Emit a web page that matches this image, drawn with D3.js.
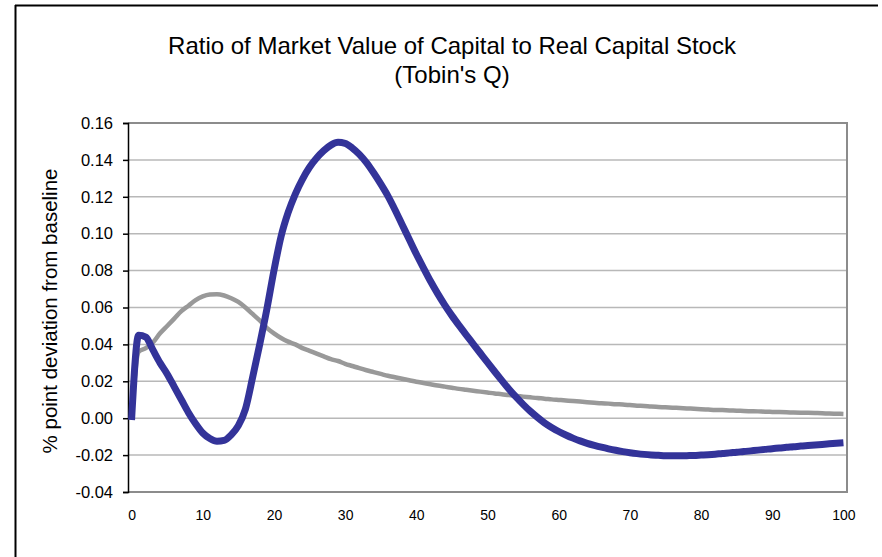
<!DOCTYPE html>
<html>
<head>
<meta charset="utf-8">
<script src="https://cdn.jsdelivr.net/npm/d3@7"></script>
<style>
  body { margin: 0; background: #fff; }
  svg text { font-family: "Liberation Sans", Arial, sans-serif; fill: #000; }
</style>
</head>
<body>
<div class="chartdiv"></div>
<script>
//chart data: periods 0..100
var periods = d3.range(0, 101);
var xTickValues = [0, 10, 20, 30, 40, 50, 60, 70, 80, 90, 100];
var yTickValues = [-0.04, -0.02, 0.00, 0.02, 0.04, 0.06, 0.08, 0.10, 0.12, 0.14, 0.16];

//blue series
var seriesBlue = [
  -0.001, 0.045, 0.044, 0.037, 0.030, 0.024, 0.017, 0.010, 0.003, -0.003,
  -0.008, -0.011, -0.0125, -0.012, -0.009, -0.004, 0.005, 0.022, 0.040, 0.059,
  0.080, 0.0985, 0.1115, 0.1215, 0.1295, 0.136, 0.141, 0.145, 0.148, 0.1495,
  0.149, 0.1465, 0.143, 0.1385, 0.133, 0.127, 0.1205, 0.113, 0.105, 0.097,
  0.089, 0.0815, 0.0742, 0.0675, 0.0613, 0.0556, 0.0503, 0.0452, 0.0402, 0.0352,
  0.0302, 0.0253, 0.0205, 0.0158, 0.0115, 0.0075, 0.0038, 0.0005, -0.0025, -0.005,
  -0.0072, -0.0091, -0.0108, -0.0123, -0.0136, -0.0147, -0.0157, -0.0166, -0.0174, -0.0181,
  -0.0187, -0.0192, -0.0196, -0.0199, -0.0201, -0.0203, -0.0204, -0.0204, -0.0203, -0.0202,
  -0.0200, -0.0198, -0.0195, -0.0191, -0.0188, -0.0184, -0.0181, -0.0177, -0.0173, -0.0169,
  -0.0165, -0.0162, -0.0158, -0.0155, -0.0151, -0.0148, -0.0145, -0.0142, -0.0139, -0.0136,
  -0.0133
];

//gray series
var seriesGray = [
  0.000, 0.036, 0.038, 0.041, 0.046, 0.050, 0.054, 0.058, 0.061, 0.064,
  0.066, 0.067, 0.0672, 0.0665, 0.065, 0.063, 0.060, 0.0565, 0.053, 0.049,
  0.046, 0.0435, 0.0415, 0.040, 0.038, 0.0365, 0.035, 0.0335, 0.032, 0.031,
  0.0295, 0.0283, 0.0271, 0.026, 0.025, 0.024, 0.023, 0.0222, 0.0214, 0.0206,
  0.0198, 0.0191, 0.0184, 0.0177, 0.0171, 0.0165, 0.0159, 0.0154, 0.0149, 0.0144,
  0.0139, 0.0134, 0.013, 0.0125, 0.0121, 0.0117, 0.0113, 0.0109, 0.0106, 0.0102,
  0.0099, 0.0096, 0.0093, 0.009, 0.0087, 0.0084, 0.0081, 0.0079, 0.0076, 0.0074,
  0.0071, 0.0068, 0.0066, 0.0063, 0.0061, 0.0059, 0.0057, 0.0055, 0.0053, 0.0051,
  0.0049, 0.0047, 0.0045, 0.0044, 0.0042, 0.0041, 0.0039, 0.0038, 0.0037, 0.0035,
  0.0034, 0.0033, 0.0032, 0.0031, 0.003, 0.0029, 0.0028, 0.0027, 0.0025, 0.0024,
  0.0023
];

var chartTitle = ["Ratio of Market Value of Capital to Real Capital Stock", "(Tobin's Q)"];
var yLabel = "% point deviation from baseline";

//frame dimensions
var width = 882, height = 557;
var plot = {left: 128, right: 847, top: 123, bottom: 492};

var svg = d3.select("div.chartdiv")
    .append("svg")
    .attr("width", width)
    .attr("height", height);

//outer frame lines (top and left)
svg.append("line")
    .attr("x1", 15).attr("x2", 878).attr("y1", 5.5).attr("y2", 5.5)
    .style("stroke", "#000").style("stroke-width", 2);
svg.append("line")
    .attr("x1", 15.5).attr("x2", 15.5).attr("y1", 5).attr("y2", height)
    .style("stroke", "#000").style("stroke-width", 2);

//scales: category style axis, points centred in each slot
var band = (plot.right - plot.left) / periods.length;
var xScale = d3.scaleLinear()
    .domain([0, 100])
    .range([plot.left + band / 2, plot.right - band / 2]);

var yScale = d3.scaleLinear()
    .domain([-0.04, 0.16])
    .range([plot.bottom, plot.top]);

//gridlines
svg.append("g")
    .selectAll("line")
    .data(yTickValues)
    .enter()
    .append("line")
    .attr("x1", plot.left).attr("x2", plot.right)
    .attr("y1", function(d){ return yScale(d); })
    .attr("y2", function(d){ return yScale(d); })
    .style("stroke", "#b8b8b8")
    .style("stroke-width", 1.5);

//plot area border (top, right, bottom)
svg.append("path")
    .attr("d", "M" + plot.left + "," + plot.top + "H" + plot.right + "V" + plot.bottom + "H" + plot.left)
    .style("fill", "none")
    .style("stroke", "#8c8c8c")
    .style("stroke-width", 2);

//y axis
var yAxis = d3.axisLeft(yScale)
    .tickValues(yTickValues)
    .tickSizeOuter(0)
    .tickSize(5)
    .tickPadding(10);

var yG = svg.append("g")
    .attr("transform", "translate(" + plot.left + ",0)")
    .call(yAxis);
yG.select(".domain").style("stroke", "#000").style("stroke-width", 1.5);
yG.selectAll(".tick line").style("stroke", "#000").style("stroke-width", 1.5);
yG.selectAll(".tick text")
    .style("font-size", "16.5px")
    .text(function(d){ return d3.format(".2f")(d).replace("\u2212", "-"); });

//x axis (labels only)
var xAxis = d3.axisBottom(xScale)
    .tickValues(xTickValues)
    .tickSize(0)
    .tickPadding(18);

var xG = svg.append("g")
    .attr("transform", "translate(0," + plot.bottom + ")")
    .call(xAxis);
xG.select(".domain").remove();
xG.selectAll(".tick text").style("font-size", "14px");

//series lines
var line = d3.line()
    .x(function(d, i){ return xScale(periods[i]); })
    .y(function(d){ return yScale(d); })
    .curve(d3.curveMonotoneX);

svg.append("path")
    .datum(seriesGray)
    .attr("d", line)
    .style("fill", "none")
    .style("stroke", "#999999")
    .style("stroke-width", 4.5)
    .style("stroke-linejoin", "round");

svg.append("path")
    .datum(seriesBlue)
    .attr("d", line)
    .style("fill", "none")
    .style("stroke", "#333399")
    .style("stroke-width", 7)
    .style("stroke-linejoin", "round");

//title
svg.append("g")
    .selectAll("text")
    .data(chartTitle)
    .enter()
    .append("text")
    .attr("x", 452)
    .attr("y", function(d, i){ return 54 + i * 29; })
    .attr("text-anchor", "middle")
    .style("font-size", "24px")
    .text(function(d){ return d; });

//y axis title
svg.append("text")
    .attr("transform", "translate(57,311) rotate(-90)")
    .attr("text-anchor", "middle")
    .style("font-size", "20.5px")
    .text(yLabel);
</script>
</body>
</html>
